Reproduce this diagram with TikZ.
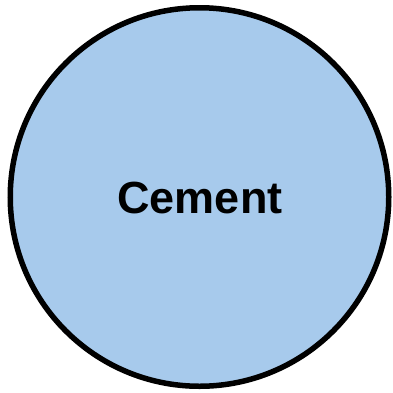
\documentclass[tikz,border=0pt]{standalone}
\usepackage{fontspec}
\setmainfont{Liberation Sans}
\definecolor{cementblue}{RGB}{167,202,236}
\begin{document}
\begin{tikzpicture}[x=1pt,y=-1pt,
  bigcircle/.style={circle,draw=black,line width=5.5pt,fill=cementblue,minimum size=378.5pt,inner sep=0pt},
  labeltext/.style={font=\fontsize{45}{50}\selectfont\bfseries,inner sep=0pt}]
\useasboundingbox (0,0) rectangle (393,392);
\node[bigcircle] (c) at (199.5,197) {};
\node[labeltext,anchor=center] (t) at (200,198.5) {\vphantom{C}Cement};
\end{tikzpicture}
\end{document}
